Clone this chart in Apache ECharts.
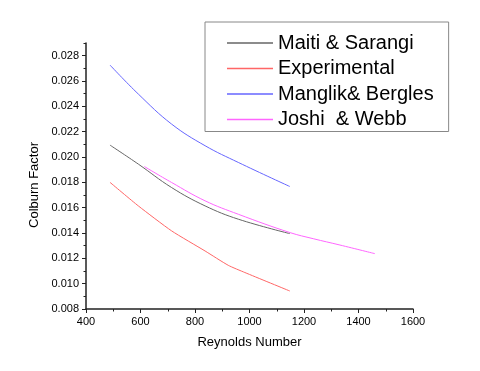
<!DOCTYPE html>
<html>
<head>
<meta charset="utf-8">
<script src="https://cdn.jsdelivr.net/npm/echarts@6/dist/echarts.min.js"></script>
<style>
  html, body { margin: 0; padding: 0; background: #fff; }
  #chart { width: 480px; height: 371px; }
</style>
</head>
<body>
<div id="chart"></div>
<script>
// values
const seriesNames = ['Maiti & Sarangi', 'Experimental', 'Manglik& Bergles', 'Joshi  & Webb']

const reMain = [488, 592, 714, 837, 959, 1148]
const maitiJ = [0.02094, 0.01944, 0.01759, 0.01614, 0.01509, 0.01395]
const mangJ = [0.02726, 0.02497, 0.0226, 0.02089, 0.01957, 0.01767]

const reExp = [488, 592, 714, 837, 922, 983, 1148]
const expJ = [0.018, 0.01614, 0.01417, 0.01258, 0.01145, 0.01088, 0.00942]

const reJoshi = [614, 714, 837, 959, 1149, 1234, 1332, 1460]
const joshiJ = [0.01925, 0.01799, 0.01654, 0.01548, 0.01403, 0.01355, 0.01305, 0.01237]

const yTicks = [0.008, 0.010, 0.012, 0.014, 0.016, 0.018, 0.020, 0.022, 0.024, 0.026, 0.028]

const font = 'Liberation Sans, Arial, sans-serif'
const axisColor = '#222'

function pairs(xs, ys) {
    return xs.map((x, i) => [x, ys[i]])
}

function lineSeries(name, data, color, smooth) {
    return {
        name,
        type: 'line',
        data,
        smooth,
        showSymbol: false,
        symbol: 'none',
        lineStyle: { width: 1, color },
        itemStyle: { color },
        animation: false,
    }
}

const chart = echarts.init(document.getElementById('chart'))
chart.setOption({
    animation: false,
    textStyle: { fontFamily: font },
    grid: { left: 86, right: 67, top: 43, bottom: 62 },
    legend: {
        orient: 'vertical',
        left: 205,
        top: 22,
        padding: [10, 15, 1, 22],
        borderColor: '#888',
        borderWidth: 1,
        icon: 'rect',
        itemWidth: 46,
        itemHeight: 1.5,
        itemGap: 3.5,
        textStyle: { fontFamily: font, fontSize: 20, color: '#000', lineHeight: 22 },
        data: seriesNames,
    },
    xAxis: {
        type: 'value',
        min: 400,
        max: 1600,
        interval: 200,
        name: 'Reynolds Number',
        nameLocation: 'middle',
        nameGap: 27,
        nameTextStyle: { fontFamily: font, fontSize: 13, color: '#000' },
        axisLine: { lineStyle: { color: axisColor, width: 1.5 } },
        axisTick: { length: 4, lineStyle: { color: axisColor } },
        minorTick: { show: true, splitNumber: 2, length: 2.5, lineStyle: { color: axisColor } },
        axisLabel: { fontFamily: font, fontSize: 11, color: '#000', margin: 7, formatter: (v) => String(v) },
        splitLine: { show: false },
    },
    yAxis: {
        type: 'value',
        min: 0.008,
        max: 0.029,
        interval: 0.002,
        name: 'Colburn Factor',
        nameLocation: 'middle',
        nameGap: 41,
        nameTextStyle: { fontFamily: font, fontSize: 13, color: '#000', padding: [0, 18, 0, 0] },
        axisLine: { show: true, lineStyle: { color: axisColor, width: 1.5 } },
        axisTick: { show: true, length: 4, customValues: yTicks, lineStyle: { color: axisColor } },
        minorTick: { show: true, splitNumber: 2, length: 2.5, lineStyle: { color: axisColor } },
        axisLabel: {
            fontFamily: font,
            fontSize: 11,
            color: '#000',
            margin: 7,
            customValues: yTicks,
            formatter: (v) => v.toFixed(3),
        },
        splitLine: { show: false },
    },
    series: [
        lineSeries(seriesNames[0], pairs(reMain, maitiJ), '#666666', 0.4),
        lineSeries(seriesNames[1], pairs(reExp, expJ), '#ff6666', 0.2),
        lineSeries(seriesNames[2], pairs(reMain, mangJ), '#6666ff', 0.4),
        lineSeries(seriesNames[3], pairs(reJoshi, joshiJ), '#ff66ff', 0.4),
    ],
})
</script>
</body>
</html>
